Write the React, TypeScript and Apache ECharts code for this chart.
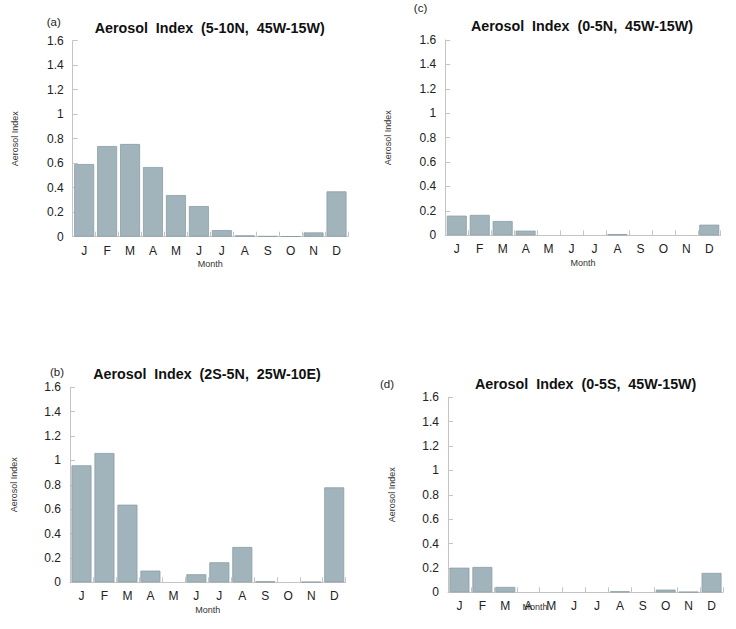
import React, { useEffect, useRef } from "react";
import * as echarts from "echarts";

// Monthly mean aerosol index for four tropical Atlantic boxes
const months = ["J", "F", "M", "A", "M", "J", "J", "A", "S", "O", "N", "D"];
const yTicks = [0, 0.2, 0.4, 0.6, 0.8, 1, 1.2, 1.4, 1.6];

const aiA = [0.593, 0.74, 0.757, 0.569, 0.34, 0.25, 0.054, 0.011, 0.005, 0.003, 0.035, 0.37];
const aiB = [0.96, 1.061, 0.637, 0.096, 0, 0.066, 0.164, 0.29, 0.008, 0, 0.003, 0.779];
const aiC = [0.161, 0.167, 0.117, 0.038, 0, 0, 0, 0.01, 0, 0, 0, 0.087];
const aiD = [0.202, 0.208, 0.044, 0, 0, 0, 0, 0.008, 0, 0.022, 0.003, 0.159];

const titles = [
  "Aerosol  Index  (5-10N,  45W-15W)",
  "Aerosol  Index  (0-5N,  45W-15W)",
  "Aerosol  Index  (2S-5N,  25W-10E)",
  "Aerosol  Index  (0-5S,  45W-15W)",
];
const panelTags = ["(a)", "(c)", "(b)", "(d)"];

const FONT = "'Liberation Sans', Arial, Helvetica, sans-serif";
const AXIS_GREY = "#c4c4c4";
const BAR_FILL = "#a2b4bb";
const BAR_EDGE = "#8a9da4";

// Panel layout: grid box, title centre, tag centre, axis-name gaps
const panels = [
  { data: aiA, grid: { left: 72.7, top: 40.7, width: 275.3, height: 196 }, title: [209.7, 28.3], tag: [53.7, 22.3], yGap: 53, xGap: 23, monthFree: false },
  { data: aiC, grid: { left: 445.3, top: 40, width: 275.4, height: 195.3 }, title: [582, 26], tag: [420.5, 8.3], yGap: 53, xGap: 23, monthFree: false },
  { data: aiB, grid: { left: 70, top: 387.3, width: 275.7, height: 195 }, title: [207, 374.3], tag: [57, 371.7], yGap: 52, xGap: 23, monthFree: false },
  { data: aiD, grid: { left: 448, top: 397.3, width: 275, height: 195 }, title: [585.7, 384.2], tag: [387, 383.7], yGap: 52, xGap: 23, monthFree: true },
];

export default function App() {
  const ref = useRef<HTMLDivElement>(null);

  useEffect(() => {
    if (!ref.current) return;
    const chart = echarts.init(ref.current, null, { renderer: "svg" });

    const grids = panels.map((p) => ({ ...p.grid, containLabel: false }));

    const xAxes = panels.map((p, i) => ({
      type: "category",
      gridIndex: i,
      data: months,
      name: p.monthFree ? "" : "Month",
      nameLocation: "middle",
      nameGap: p.xGap,
      nameTextStyle: { fontFamily: FONT, fontSize: 9, color: "#333" },
      axisLine: { show: true, lineStyle: { color: AXIS_GREY, width: 1 } },
      axisTick: { show: true, inside: true, length: 5, interval: 0, lineStyle: { color: AXIS_GREY } },
      axisLabel: { fontFamily: FONT, fontSize: 12, color: "#222", margin: 8, interval: 0 },
      splitLine: { show: false },
    }));

    const yAxes = panels.map((p, i) => ({
      type: "value",
      gridIndex: i,
      min: yTicks[0],
      max: yTicks[yTicks.length - 1],
      interval: 0.2,
      name: "Aerosol Index",
      nameLocation: "middle",
      nameGap: p.yGap,
      nameTextStyle: { fontFamily: FONT, fontSize: 9, color: "#333" },
      axisLine: { show: true, lineStyle: { color: AXIS_GREY, width: 1 } },
      axisTick: { show: true, inside: true, length: 5, lineStyle: { color: AXIS_GREY } },
      axisLabel: {
        fontFamily: FONT,
        fontSize: 12,
        color: "#222",
        margin: 9,
        formatter: (v: number) => String(Math.round(v * 10) / 10),
      },
      splitLine: { show: false },
    }));

    // Zero-valued months draw nothing (no outline sitting on the axis)
    const series = panels.map((p, i) => ({
      type: "bar",
      xAxisIndex: i,
      yAxisIndex: i,
      data: p.data.map((v) =>
        v === 0 ? { value: v, itemStyle: { borderWidth: 0, opacity: 0 } } : v
      ),
      barCategoryGap: "13%",
      itemStyle: { color: BAR_FILL, borderColor: BAR_EDGE, borderWidth: 0.8 },
      emphasis: { disabled: true },
    }));

    const texts: any[] = [];
    panels.forEach((p, i) => {
      texts.push({
        type: "text",
        x: p.title[0],
        y: p.title[1],
        style: {
          text: titles[i],
          fontFamily: FONT,
          fontSize: 14.3,
          fontWeight: "bold",
          fill: "#111",
          textAlign: "center",
          textVerticalAlign: "middle",
        },
      });
      texts.push({
        type: "text",
        x: p.tag[0],
        y: p.tag[1],
        style: {
          text: panelTags[i],
          fontFamily: FONT,
          fontSize: 11.5,
          fill: "#222",
          textAlign: "center",
          textVerticalAlign: "middle",
        },
      });
    });
    // Panel (d) has its axis title sitting among the month labels
    texts.push({
      type: "text",
      x: 535,
      y: 607,
      style: {
        text: "Month",
        fontFamily: FONT,
        fontSize: 9,
        fill: "#333",
        textAlign: "center",
        textVerticalAlign: "middle",
      },
    });

    chart.setOption({
      animation: false,
      backgroundColor: "#ffffff",
      grid: grids,
      xAxis: xAxes,
      yAxis: yAxes,
      series,
      graphic: texts,
    });

    return () => chart.dispose();
  }, []);

  return (
    <div
      ref={ref}
      style={{ position: "absolute", left: 0, top: 0, width: 736, height: 629 }}
    />
  );
}
